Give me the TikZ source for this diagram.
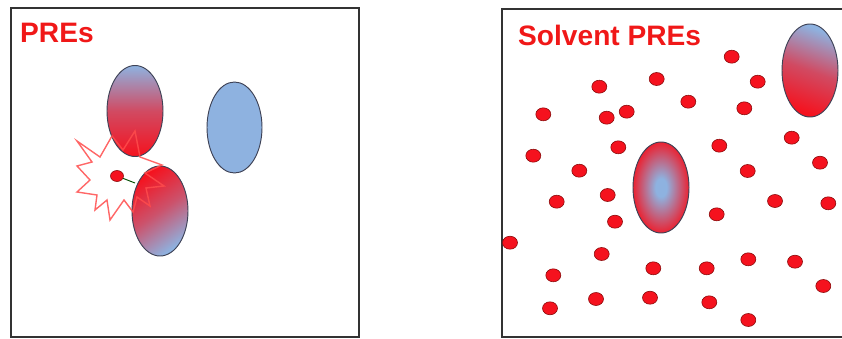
\documentclass[tikz,border=0pt]{standalone}
\usepackage{fontspec}
\setmainfont{Liberation Sans}
\usepackage{tikz}
\usetikzlibrary{shapes.geometric}

\definecolor{pblue}{HTML}{8EB2E0}
\definecolor{pred}{HTML}{F5121E}
\definecolor{rimgray}{HTML}{3E4256}
\definecolor{dotrim}{HTML}{8A0A0A}
\definecolor{titlered}{HTML}{F01818}

% blue core fading out to a red rim
\pgfdeclareradialshading{probe}{\pgfpoint{0bp}{0bp}}{%
  color(0bp)=(pblue); color(5bp)=(pblue); color(15bp)=(pred!45!pblue);
  color(25bp)=(pred!90!pblue); color(50bp)=(pred)}

\tikzset{
  frame/.style={draw=black!80, line width=1.6pt},
  title/.style={text=titlered, font=\bfseries\fontsize{24}{28}\selectfont, inner sep=0pt},
  protein/.style={ellipse, draw=rimgray, line width=0.8pt, inner sep=0pt,
    minimum width=1.68cm, minimum height=2.73cm},
  solvent/.style={ellipse, fill=pred, draw=dotrim, line width=0.5pt, inner sep=0pt,
    minimum width=0.45cm, minimum height=0.39cm},
  burst/.style={draw=red!70, line width=1.2pt, line join=miter, opacity=0.85},
  tether/.style={draw=black!70!green, line width=0.8pt}
}

\begin{document}
\begin{tikzpicture}[x=0.03cm, y=-0.03cm]
    \useasboundingbox (0,0) rectangle (842,339);

    % left panel: tagged protein
    \draw[frame] (11,8) rectangle (359,337);
    \node[title, anchor=base west] (lbl1) at (20,43) {PREs};

    \node[protein, top color=pblue, bottom color=pred, middle color=pred!65!pblue] (protA) at (135,111) {};
    \node[protein, fill=pblue, minimum width=1.65cm] (protB) at (234.5,127.5) {};
    \node[protein, top color=pred, bottom color=pblue, middle color=pred!60!pblue, shading angle=35, minimum height=2.7cm] (protC) at (160,211) {};

    \draw[burst] (77,141) -- (100,157) -- (112,136) -- (123,150) -- (135,131)
        -- (140,157) -- (162,165) -- (145,173) -- (164,186) -- (146,188)
        -- (150,206) -- (137,197) -- (133,212) -- (124,200) -- (110,220)
        -- (107,200) -- (95,210) -- (97,195) -- (77,192) -- (90,180)
        -- (77,166) -- (92,162) -- cycle;

    \coordinate (tag) at (135,183);
    \node[solvent, minimum width=0.39cm, minimum height=0.33cm] (spin) at (117,176) {};
    \draw[tether] (spin) -- (tag);

    % right panel: free spin probes in solvent
    \draw[frame] (502,9) rectangle (850,337);
    \node[title, anchor=base west] (lbl2) at (518,46) {Solvent PREs};

    \node[protein, shading=probe] (protD) at (661,187.5) {};
    \node[protein, top color=pblue, bottom color=pred, middle color=pred!65!pblue, shading angle=-20, minimum height=2.79cm] (protE) at (810,70.5) {};

    \foreach \x/\y [count=\i] in {731.7/56.7, 656.7/79, 599.3/86.7, 757.7/81.7,
        543.3/114.3, 606.7/117.7, 626.7/111.7, 688.3/101.7, 744.3/108.3,
        791.7/137.7, 533.3/155.7, 618.3/147.3, 719.3/145.7, 579.3/170.7,
        747.7/171, 820/162.7, 556.7/201.7, 607.7/195, 775/201, 828.3/203.3,
        615/221.7, 716.7/214.3, 510/242.7, 601.7/254, 553.3/275.3,
        653.3/268.3, 706.7/268.3, 748.3/259.3, 795/261.7, 823.3/286,
        550/308.3, 596/299, 650/297.7, 709.3/302.3, 748.3/320}
      \node[solvent] (s\i) at (\x,\y) {};

\end{tikzpicture}
\end{document}
